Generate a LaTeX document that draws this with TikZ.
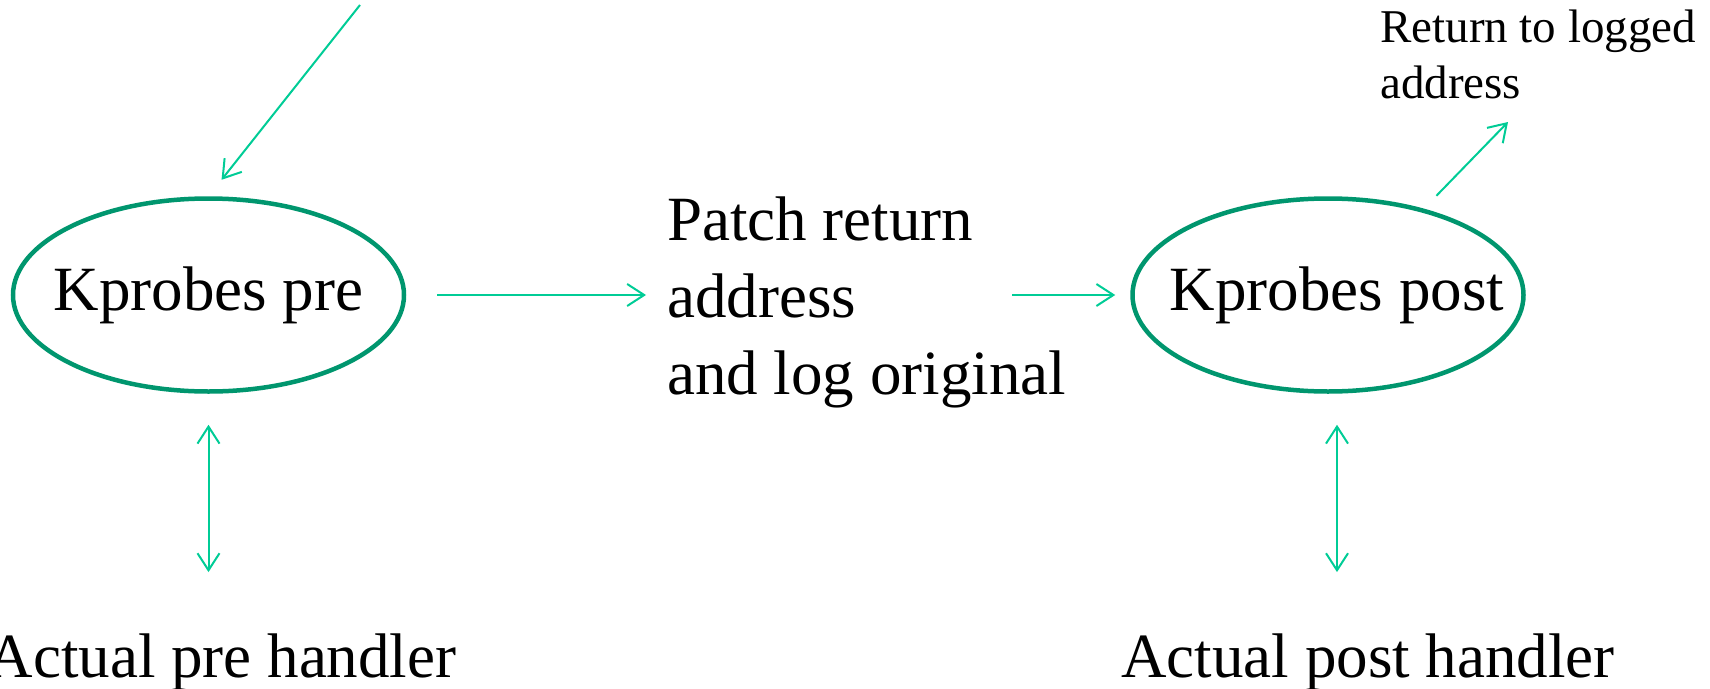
\documentclass[tikz,border=0pt]{standalone}
\usepackage{fontspec}
\setmainfont{Liberation Serif}
\usetikzlibrary{arrows.meta,shapes.geometric}
\definecolor{ellgreen}{RGB}{0,150,110}
\definecolor{arrgreen}{RGB}{0,204,150}
\tikzset{
  probe/.style={ellipse, draw=ellgreen, line width=4.5pt, minimum width=391pt, minimum height=193pt,
    inner xsep=-40pt, inner ysep=0pt, font=\fontsize{63}{77}\selectfont},
  bigtext/.style={inner sep=0pt, font=\fontsize{63}{77}\selectfont},
  smalltext/.style={inner sep=0pt, font=\fontsize{47}{56}\selectfont},
  arr/.style={draw=arrgreen, line width=2pt, -{Straight Barb[length=17pt,width=22pt]}},
  darr/.style={draw=arrgreen, line width=2pt, {Straight Barb[length=17pt,width=22pt]}-{Straight Barb[length=17pt,width=22pt]}}
}
\begin{document}
\begin{tikzpicture}[x=1pt,y=-1pt]
\useasboundingbox (0,0) rectangle (1710,688);
\node[probe] (pre) at (208.5,295) {Kprobes pre};
\node[probe] (post) at (1328,295) {\hspace*{18pt}Kprobes post};
\node[bigtext, anchor=north west, align=left] (patch) at (667,197) {Patch return\\address\\and log original};
\node[bigtext, anchor=base] (prehandler) at (222,677) {Actual pre handler};
\node[bigtext, anchor=base] (posthandler) at (1368,677) {Actual post handler};
\node[smalltext, anchor=north west, align=left] (ret) at (1380,10) {Return to logged\\address};
\coordinate (topin) at (360,5);
\coordinate (patchout) at (1012,295);
\coordinate (retto) at (1508,122);
\draw[arr, shorten >=21pt] (topin) -- (pre.north);
\draw[arr, shorten <=31pt, shorten >=21pt] (pre.east) -- (pre.east -| patch.west);
\draw[arr, shorten >=15pt] (patchout) -- (post.west);
\draw[arr, shorten <=18pt] (post.42.5) -- (retto);
\draw[darr, shorten <=31pt, shorten >=61pt] (pre.south) -- (pre.south |- prehandler.north);
\draw[darr, shorten <=31pt, shorten >=61pt] ([xshift=9pt]post.south) -- ([xshift=9pt]post.south |- posthandler.north);
\end{tikzpicture}
\end{document}
